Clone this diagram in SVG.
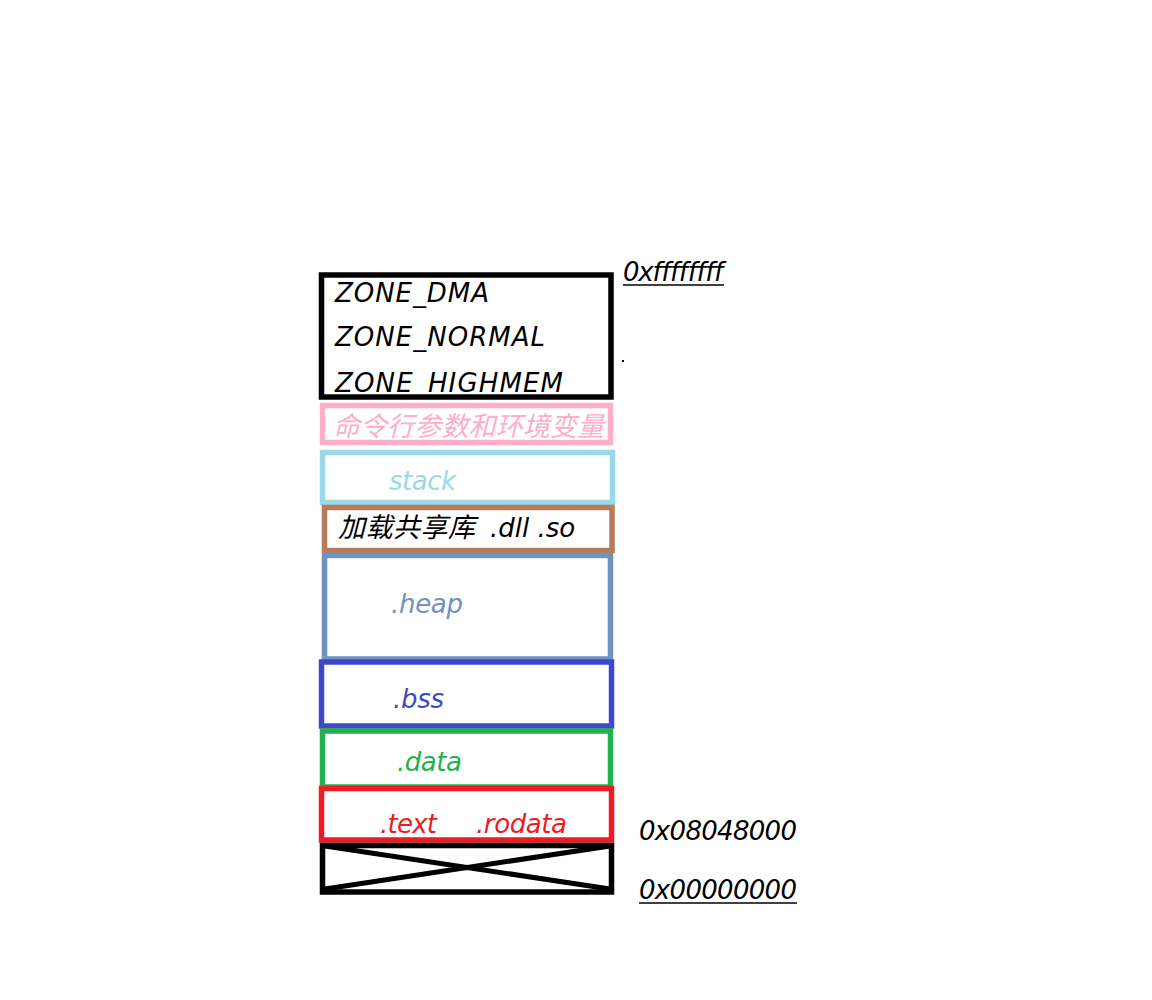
<svg xmlns="http://www.w3.org/2000/svg" width="1152" height="1000" viewBox="0 0 1152 1000">
<style>
.t{font-family:"DejaVu Sans","Noto Sans CJK SC",sans-serif;font-style:italic;font-size:26px}
.c{font-family:"Noto Sans CJK SC",sans-serif;font-style:italic;font-size:27px}
.b{fill:none;stroke-width:5.5}
</style>
<rect width="1152" height="1000" fill="#fff"/>
<g id="zone">
<text class="t" x="335" y="302" textLength="154">ZONE_DMA</text>
<text class="t" x="335" y="346" textLength="210">ZONE_NORMAL</text>
<text class="t" x="335" y="392" textLength="228">ZONE_HIGHMEM</text>
<rect class="b" x="321.5" y="275" width="289.5" height="122" stroke="#000"/>
</g>
<g id="args">
<rect class="b" x="322.5" y="405.5" width="288" height="37" stroke="#ffaec9"/>
<text class="c" x="333" y="436" fill="#ffaec9" textLength="271">命令行参数和环境变量</text>
</g>
<g id="stack">
<rect class="b" x="322.5" y="452.5" width="290" height="50" stroke="#99d9ea"/>
<text class="t" x="389" y="490" fill="#99d9ea" textLength="67">stack</text>
</g>
<g id="shlib">
<rect class="b" x="324.5" y="507.5" width="287.5" height="43" stroke="#b97a57"/>
<text x="338" y="537" fill="#000" xml:space="preserve"><tspan class="c" textLength="137">加载共享库</tspan><tspan class="t" x="490">.dll .so</tspan></text>
</g>
<g id="heap">
<rect class="b" x="324.5" y="555.5" width="286" height="103.5" stroke="#7092be"/>
<text class="t" x="391" y="613" fill="#7092be" textLength="72">.heap</text>
</g>
<g id="bss">
<rect class="b" x="321.5" y="662" width="290" height="64" stroke="#3f48cc"/>
<text class="t" x="393" y="708" fill="#3f48cc" textLength="51">.bss</text>
</g>
<g id="data">
<rect class="b" x="322.5" y="731" width="288" height="56" stroke="#22b14c"/>
<text class="t" x="397" y="771" fill="#22b14c" textLength="65">.data</text>
</g>
<g id="text">
<rect class="b" x="321.5" y="788.5" width="290" height="51.5" stroke="#ed1c24"/>
<text class="t" x="380" y="833" fill="#ed1c24" textLength="57">.text</text>
<text class="t" x="476" y="833" fill="#ed1c24" textLength="91">.rodata</text>
</g>
<g id="reserved">
<rect class="b" x="322.5" y="845.5" width="289" height="46.5" stroke="#000"/>
<path d="M325 846 L610 889 M325 889 L610 846" stroke="#000" stroke-width="5" fill="none"/>
</g>
<g id="labels">
<text class="t" x="623" y="281" textLength="101">0xffffffff</text>
<line x1="623" y1="285" x2="724" y2="285" stroke="#000" stroke-width="1.5"/>
<rect x="622" y="360" width="2" height="2" fill="#000"/>
<text class="t" x="639" y="840" textLength="158">0x08048000</text>
<text class="t" x="639" y="899" textLength="158">0x00000000</text>
<line x1="639" y1="903" x2="797" y2="903" stroke="#000" stroke-width="1.5"/>
</g>
</svg>
